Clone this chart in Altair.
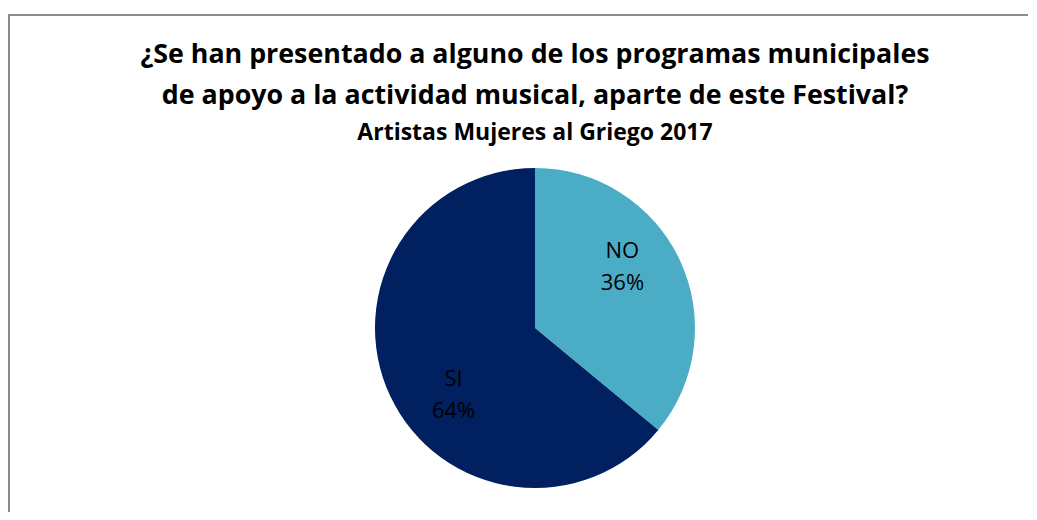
import altair as alt
import pandas as pd

categories = ["NO", "SI"]
percents = [36, 64]
colors = ["#4BACC6", "#002060"]
title_lines = ["¿Se han presentado a alguno de los programas municipales",
               "de apoyo a la actividad musical, aparte de este Festival?"]
subtitle = "Artistas Mujeres al Griego 2017"

W, H = 1021, 504
CX, CY = 527, 320
FONT = "Open Sans"

df = pd.DataFrame({
    "cat": categories,
    "pct": percents,
    "ord": list(range(len(categories))),
})
df["label"] = [f"{c}\n{p}%" for c, p in zip(categories, percents)]

base = alt.Chart(df).encode(
    theta=alt.Theta("pct:Q", stack=True),
    order=alt.Order("ord:Q"),
    x=alt.value(CX),
    y=alt.value(CY),
)

pie = base.mark_arc(outerRadius=160, strokeWidth=0).encode(
    color=alt.Color("cat:N", scale=alt.Scale(domain=categories, range=colors), legend=None)
)

labels = base.mark_text(radius=106, thetaOffset=-0.21, lineBreak="\n", lineHeight=32,
                        fontSize=22, font=FONT, color="#000000", dx=3, dy=-13,
                        align="center", baseline="middle").encode(text="label:N")

t_layers = []
for txt, yy, fs in zip(title_lines + [subtitle], [55, 96, 132], [26.8, 26.8, 23]):
    t_layers.append(
        alt.Chart(pd.DataFrame({"t": [txt]})).mark_text(
            font=FONT, fontWeight="bold", fontSize=fs, color="#000000",
            align="center", baseline="alphabetic").encode(
            text="t:N", x=alt.value(CX), y=alt.value(yy))
    )

border_top = alt.Chart(pd.DataFrame({"a": [0]})).mark_rule(color="#8c8c8c", strokeWidth=2).encode(
    x=alt.value(0), x2=alt.value(W - 1), y=alt.value(7))
border_left = alt.Chart(pd.DataFrame({"a": [0]})).mark_rule(color="#8c8c8c", strokeWidth=2).encode(
    x=alt.value(1), y=alt.value(6), y2=alt.value(H))

chart = alt.layer(border_top, border_left, pie, labels, *t_layers).properties(
    width=W, height=H, padding=0, autosize=alt.AutoSizeParams(type="none"),
    background="white"
).configure_view(stroke="transparent", strokeWidth=0)

chart.save("out.html", embed_options={"renderer": "svg", "actions": False})
